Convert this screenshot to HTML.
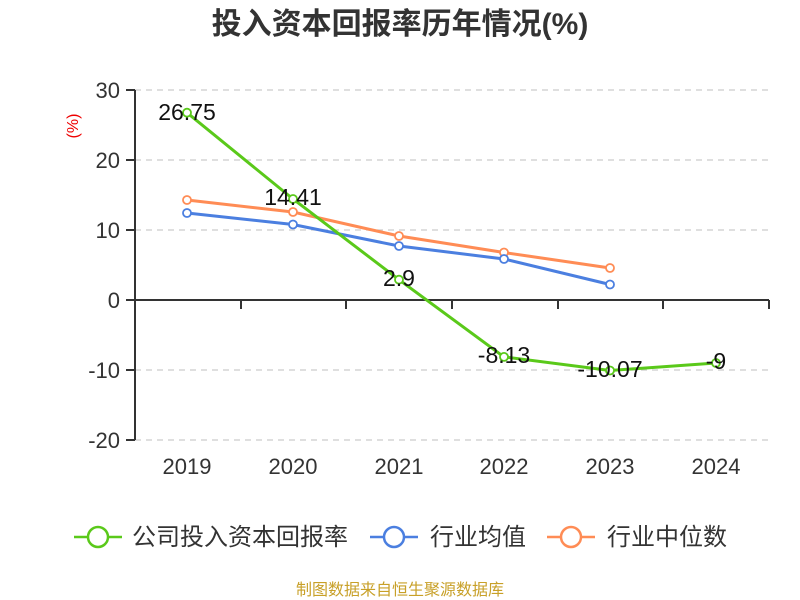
<!DOCTYPE html>
<html><head><meta charset="utf-8"><style>body{margin:0;background:#fff}svg{display:block}</style></head><body>
<svg width="800" height="600" xmlns="http://www.w3.org/2000/svg" font-family="Liberation Sans, Noto Sans CJK SC, sans-serif">
<text x="400" y="34" text-anchor="middle" font-size="30" font-weight="bold" fill="#333">投入资本回报率历年情况(%)</text>
<text transform="translate(78,126) rotate(-90)" text-anchor="middle" font-size="16" fill="#e00">(%)</text>
<g stroke="#ccc" stroke-dasharray="6,5" stroke-width="1.3">
<line x1="135" y1="90" x2="769" y2="90"/><line x1="135" y1="160" x2="769" y2="160"/><line x1="135" y1="230" x2="769" y2="230"/><line x1="135" y1="370" x2="769" y2="370"/><line x1="135" y1="440" x2="769" y2="440"/></g>
<g stroke="#333" stroke-width="2"><line x1="135" y1="90" x2="135" y2="440"/><line x1="135" y1="300" x2="769" y2="300"/>
<line x1="126" y1="90" x2="135" y2="90"/><line x1="126" y1="160" x2="135" y2="160"/><line x1="126" y1="230" x2="135" y2="230"/><line x1="126" y1="300" x2="135" y2="300"/><line x1="126" y1="370" x2="135" y2="370"/><line x1="126" y1="440" x2="135" y2="440"/>
<line x1="241" y1="300" x2="241" y2="309"/><line x1="346" y1="300" x2="346" y2="309"/><line x1="452" y1="300" x2="452" y2="309"/><line x1="558" y1="300" x2="558" y2="309"/><line x1="663" y1="300" x2="663" y2="309"/><line x1="769" y1="300" x2="769" y2="309"/></g>
<g font-size="22" fill="#333" text-anchor="end"><text x="120" y="98">30</text><text x="120" y="168">20</text><text x="120" y="238">10</text><text x="120" y="308">0</text><text x="120" y="378">-10</text><text x="120" y="448">-20</text></g>
<g font-size="22" fill="#333" text-anchor="middle"><text x="187" y="474">2019</text><text x="293" y="474">2020</text><text x="399" y="474">2021</text><text x="504" y="474">2022</text><text x="610" y="474">2023</text><text x="716" y="474">2024</text></g>
<g fill="none" stroke-width="3">
<polyline stroke="#ff8c55" points="187,200 293,212 399,236 504,252.5 610,268"/>
<polyline stroke="#4b7fe0" points="187,213 293,224.5 399,246 504,259 610,284.5"/>
<polyline stroke="#5ac91a" points="187,112.7 293,199 399,279.7 504,356.9 610,370.5 716,363"/></g>
<g fill="#fff" stroke-width="1.8">
<g stroke="#ff8c55"><circle cx="187" cy="200" r="4"/><circle cx="293" cy="212" r="4"/><circle cx="399" cy="236" r="4"/><circle cx="504" cy="252.5" r="4"/><circle cx="610" cy="268" r="4"/></g>
<g stroke="#4b7fe0"><circle cx="187" cy="213" r="4"/><circle cx="293" cy="224.5" r="4"/><circle cx="399" cy="246" r="4"/><circle cx="504" cy="259" r="4"/><circle cx="610" cy="284.5" r="4"/></g>
<g stroke="#5ac91a"><circle cx="187" cy="112.7" r="4"/><circle cx="293" cy="199" r="4"/><circle cx="399" cy="279.7" r="4"/><circle cx="504" cy="356.9" r="4"/><circle cx="610" cy="370.5" r="4"/><circle cx="716" cy="363" r="4"/></g></g>
<g font-size="23" fill="#111" text-anchor="middle"><text x="187" y="120">26.75</text><text x="293" y="205">14.41</text><text x="399" y="286">2.9</text><text x="504" y="363">-8.13</text><text x="610" y="377">-10.07</text><text x="716" y="369">-9</text></g>
<g stroke-width="2.5" fill="#fff">
<line x1="74" y1="537" x2="122" y2="537" stroke="#5ac91a"/><circle cx="98" cy="537" r="10" stroke="#5ac91a"/>
<line x1="370" y1="537" x2="418" y2="537" stroke="#4b7fe0"/><circle cx="394" cy="537" r="10" stroke="#4b7fe0"/>
<line x1="547" y1="537" x2="595" y2="537" stroke="#ff8c55"/><circle cx="571" cy="537" r="10" stroke="#ff8c55"/></g>
<g font-size="24" fill="#333"><text x="132" y="545">公司投入资本回报率</text><text x="430" y="545">行业均值</text><text x="607" y="545">行业中位数</text></g>
<text x="400" y="595" text-anchor="middle" font-size="16" fill="#c8a028">制图数据来自恒生聚源数据库</text>
</svg></body></html>
